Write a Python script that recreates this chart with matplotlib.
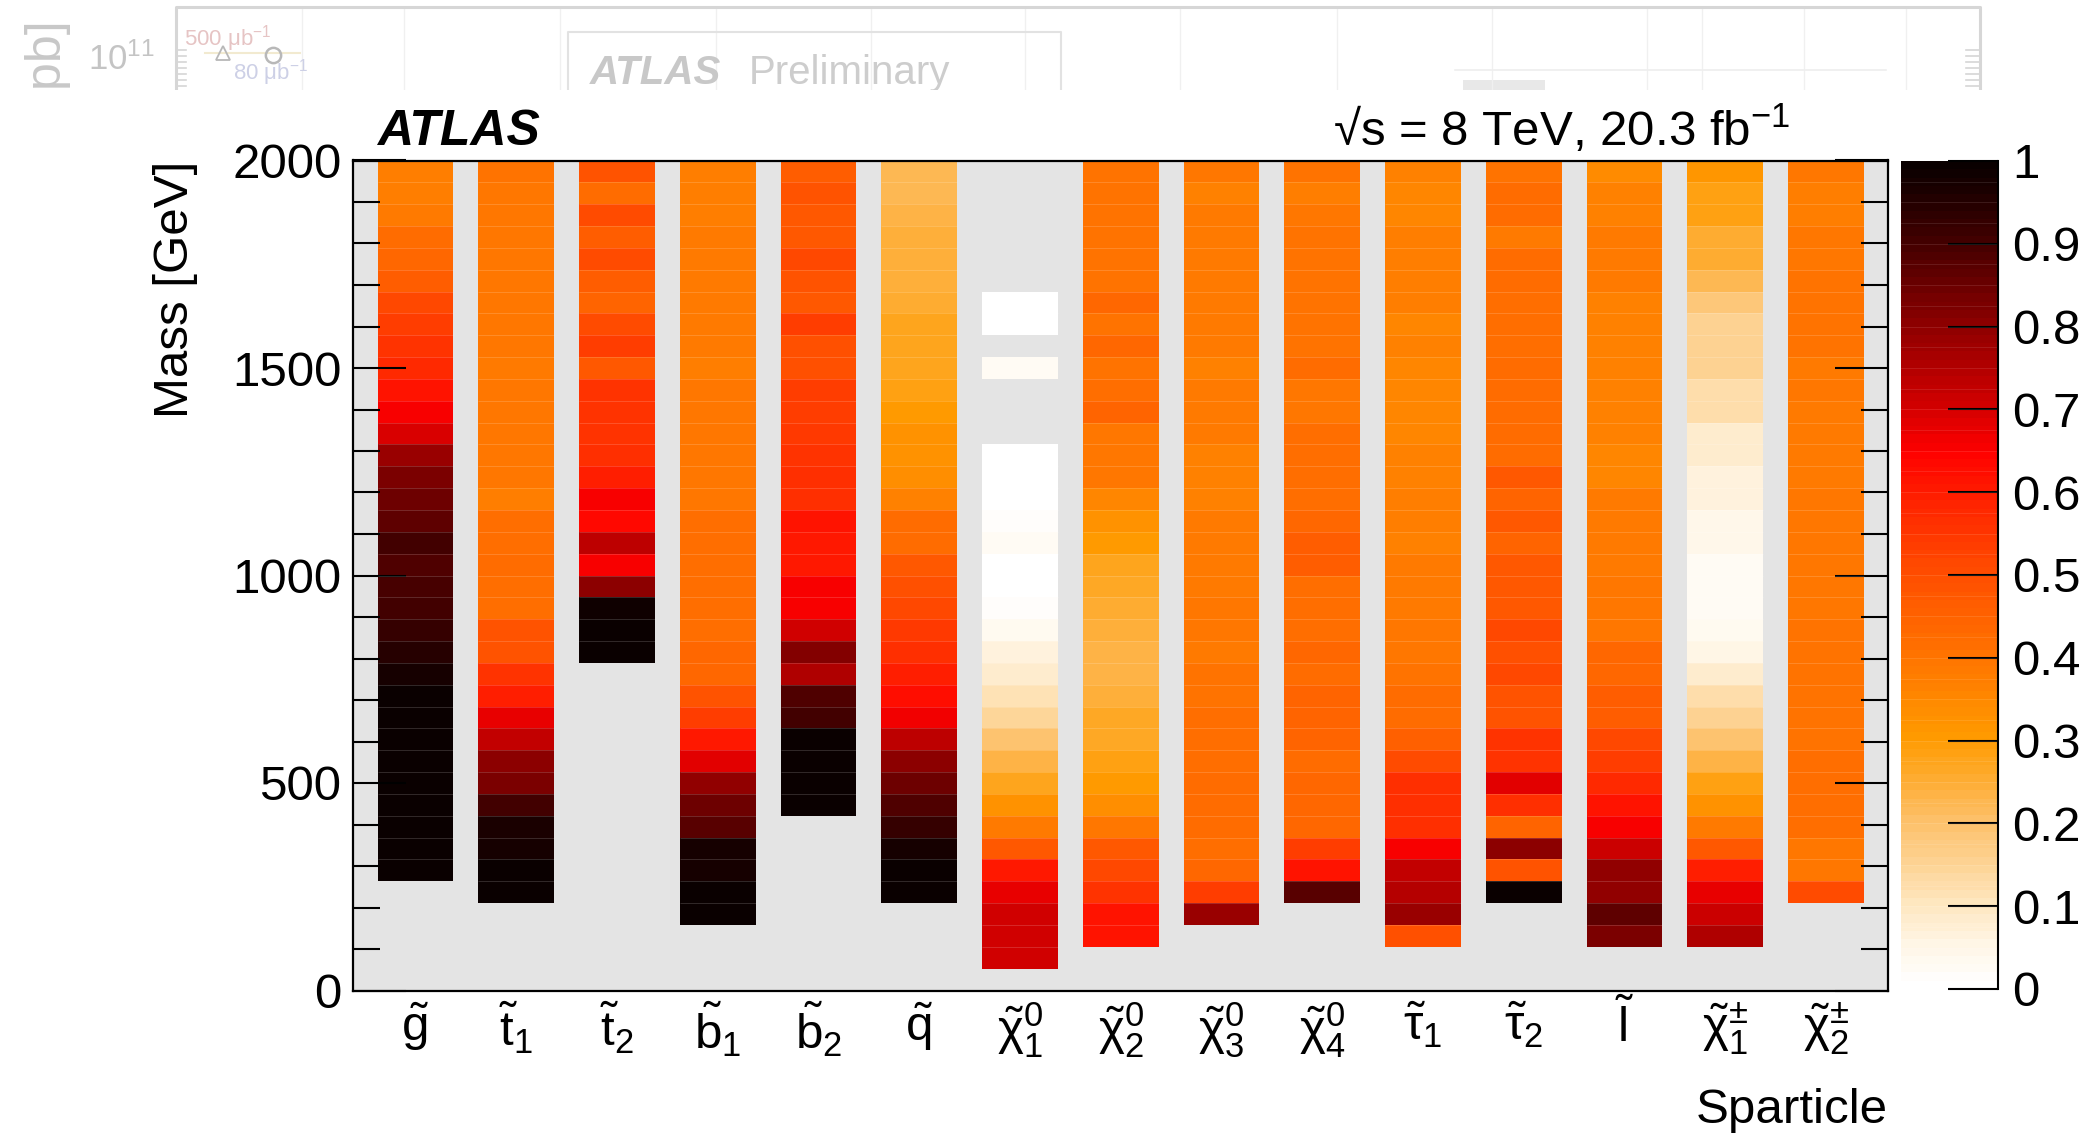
import numpy as np
import matplotlib
matplotlib.use("Agg")
import matplotlib.pyplot as plt
from matplotlib.colors import LinearSegmentedColormap, ListedColormap
from matplotlib.ticker import MultipleLocator, FuncFormatter
from matplotlib.patches import Rectangle

plt.rcParams['font.family'] = ['Liberation Sans', 'DejaVu Sans']
plt.rcParams['mathtext.fontset'] = 'custom'
plt.rcParams['mathtext.rm'] = 'Liberation Sans'
plt.rcParams['mathtext.it'] = 'Liberation Sans'
plt.rcParams['mathtext.bf'] = 'Liberation Sans:bold'
plt.rcParams['mathtext.sf'] = 'Liberation Sans'

# ---------------------------------------------------------------------------
# Fraction of models excluded, per sparticle and 2000/38 GeV mass bin.
# Each list runs from the highest mass bin (top) downward; None = no models.
# ---------------------------------------------------------------------------
n_bins = 38
mass_max = 2000.0

sparticles = [r'$\tilde{g}$', r'$\tilde{t}_{1}$', r'$\tilde{t}_{2}$',
              r'$\tilde{b}_{1}$', r'$\tilde{b}_{2}$', r'$\tilde{q}$',
              r'$\tilde{\chi}^{0}_{1}$', r'$\tilde{\chi}^{0}_{2}$',
              r'$\tilde{\chi}^{0}_{3}$', r'$\tilde{\chi}^{0}_{4}$',
              r'$\tilde{\tau}_{1}$', r'$\tilde{\tau}_{2}$', r'$\tilde{l}$',
              r'$\tilde{\chi}^{\pm}_{1}$', r'$\tilde{\chi}^{\pm}_{2}$']

gluino = [0.37, 0.37, 0.38, 0.42, 0.43, 0.46, 0.51, 0.53, 0.55, 0.58, 0.61,
          0.65, 0.69, 0.78, 0.82, 0.84, 0.86, 0.90, 0.88, 0.89, 0.90, 0.92,
          0.94, 0.97, 0.99, 1.0, 1.0, 1.0, 1.0, 1.0, 1.0, 1.0, 1.0]
stop1 = [0.40, 0.39, 0.39, 0.39, 0.39, 0.39, 0.39, 0.39, 0.39, 0.38, 0.39,
         0.39, 0.39, 0.39, 0.39, 0.37, 0.41, 0.41, 0.42, 0.41, 0.41, 0.48,
         0.48, 0.55, 0.59, 0.67, 0.72, 0.80, 0.82, 0.90, 0.96, 0.97, 1.0, 1.0]
stop2 = [0.48, 0.42, 0.50, 0.46, 0.50, 0.46, 0.44, 0.50, 0.53, 0.47, 0.55,
         0.55, 0.55, 0.56, 0.59, 0.65, 0.63, 0.73, 0.65, 0.80, 0.98, 0.99, 1.0]
sbottom1 = [0.37, 0.37, 0.37, 0.38, 0.38, 0.38, 0.38, 0.38, 0.38, 0.37, 0.39,
            0.39, 0.39, 0.39, 0.39, 0.39, 0.41, 0.41, 0.41, 0.41, 0.41, 0.41,
            0.43, 0.43, 0.48, 0.53, 0.60, 0.68, 0.79, 0.84, 0.87, 0.97, 0.97,
            1.0, 1.0]
sbottom2 = [0.46, 0.48, 0.47, 0.47, 0.51, 0.48, 0.47, 0.53, 0.49, 0.49, 0.53,
            0.53, 0.54, 0.55, 0.56, 0.57, 0.61, 0.60, 0.60, 0.65, 0.65, 0.70,
            0.81, 0.75, 0.88, 0.90, 1.0, 1.0, 1.0, 1.0]
squark = [0.22, 0.22, 0.23, 0.24, 0.24, 0.24, 0.25, 0.27, 0.27, 0.27, 0.28,
          0.30, 0.32, 0.32, 0.33, 0.36, 0.42, 0.42, 0.47, 0.49, 0.51, 0.54,
          0.56, 0.59, 0.62, 0.66, 0.73, 0.80, 0.84, 0.88, 0.92, 0.97, 1.0, 1.0]
neutralino1 = [None, None, None, None, None, None, 0.005, 0.005, None, 0.02,
               None, None, None, 0.005, 0.005, 0.005, 0.01, 0.02, 0.005,
               0.005, 0.01, 0.03, 0.06, 0.08, 0.11, 0.14, 0.19, 0.23, 0.27,
               0.32, 0.38, 0.47, 0.60, 0.67, 0.70, 0.70, 0.70]
neutralino2 = [0.40, 0.40, 0.40, 0.40, 0.40, 0.40, 0.43, 0.40, 0.43, 0.40,
               0.41, 0.44, 0.39, 0.39, 0.39, 0.35, 0.32, 0.30, 0.27, 0.26,
               0.25, 0.24, 0.23, 0.23, 0.24, 0.26, 0.26, 0.28, 0.30, 0.33,
               0.39, 0.47, 0.51, 0.55, 0.61, 0.61]
neutralino3 = [0.39, 0.36, 0.38, 0.38, 0.38, 0.38, 0.38, 0.38, 0.38, 0.36,
               0.38, 0.38, 0.38, 0.36, 0.36, 0.36, 0.38, 0.38, 0.38, 0.38,
               0.39, 0.39, 0.38, 0.40, 0.40, 0.41, 0.41, 0.41, 0.42, 0.42,
               0.42, 0.41, 0.43, 0.53, 0.78]
neutralino4 = [0.40, 0.37, 0.39, 0.40, 0.40, 0.40, 0.40, 0.40, 0.40, 0.42,
               0.39, 0.39, 0.41, 0.41, 0.41, 0.41, 0.43, 0.46, 0.46, 0.41,
               0.41, 0.41, 0.43, 0.42, 0.44, 0.44, 0.44, 0.42, 0.43, 0.43,
               0.43, 0.53, 0.61, 0.87]
stau1 = [0.36, 0.35, 0.35, 0.37, 0.37, 0.37, 0.37, 0.35, 0.36, 0.35, 0.35,
         0.35, 0.35, 0.36, 0.36, 0.37, 0.37, 0.36, 0.38, 0.38, 0.38, 0.39,
         0.39, 0.40, 0.42, 0.42, 0.45, 0.50, 0.56, 0.56, 0.57, 0.65, 0.72,
         0.74, 0.78, 0.49]
stau2 = [0.40, 0.42, 0.42, 0.38, 0.42, 0.42, 0.41, 0.41, 0.41, 0.42, 0.42,
         0.42, 0.42, 0.42, 0.47, 0.44, 0.47, 0.44, 0.47, 0.47, 0.47, 0.51,
         0.49, 0.51, 0.48, 0.48, 0.55, 0.55, 0.68, 0.56, 0.44, 0.80, 0.48, 1.0]
slepton = [0.34, 0.36, 0.36, 0.38, 0.38, 0.38, 0.36, 0.36, 0.36, 0.36, 0.36,
           0.36, 0.36, 0.35, 0.35, 0.38, 0.38, 0.38, 0.38, 0.39, 0.39, 0.39,
           0.43, 0.43, 0.46, 0.46, 0.51, 0.53, 0.58, 0.61, 0.65, 0.71, 0.79,
           0.79, 0.86, 0.82]
chargino1 = [0.31, 0.28, 0.28, 0.25, 0.25, 0.22, 0.18, 0.15, 0.15, 0.15, 0.12,
             0.12, 0.08, 0.08, 0.06, 0.06, 0.04, 0.04, 0.02, 0.02, 0.02, 0.03,
             0.05, 0.08, 0.12, 0.15, 0.19, 0.23, 0.28, 0.32, 0.38, 0.47, 0.59,
             0.67, 0.71, 0.75]
chargino2 = [0.39, 0.37, 0.37, 0.39, 0.39, 0.40, 0.40, 0.40, 0.40, 0.38, 0.39,
             0.38, 0.38, 0.38, 0.38, 0.39, 0.39, 0.39, 0.39, 0.39, 0.39, 0.40,
             0.40, 0.40, 0.40, 0.40, 0.40, 0.41, 0.41, 0.41, 0.41, 0.39, 0.39,
             0.50]

columns = [gluino, stop1, stop2, sbottom1, sbottom2, squark, neutralino1,
           neutralino2, neutralino3, neutralino4, stau1, stau2, slepton,
           chargino1, chargino2]

colorbar_ticks = [0.0, 0.1, 0.2, 0.3, 0.4, 0.5, 0.6, 0.7, 0.8, 0.9, 1.0]

# ---------------------------------------------------------------------------
# Palette: white -> orange -> red -> black
# ---------------------------------------------------------------------------
anchors = [
    (0.00, (255, 255, 255)), (0.05, (255, 245, 228)), (0.10, (254, 230, 190)),
    (0.15, (253, 210, 145)), (0.20, (253, 192, 105)), (0.25, (254, 172, 50)),
    (0.30, (255, 155, 0)), (0.35, (255, 135, 0)), (0.40, (255, 116, 0)),
    (0.45, (255, 98, 0)), (0.50, (255, 78, 0)), (0.55, (255, 55, 0)),
    (0.60, (255, 28, 0)), (0.65, (255, 0, 0)), (0.70, (215, 0, 0)),
    (0.75, (180, 0, 0)), (0.80, (145, 0, 0)), (0.85, (110, 0, 0)),
    (0.90, (72, 0, 0)), (0.95, (40, 0, 0)), (1.00, (10, 0, 0)),
]
smooth = LinearSegmentedColormap.from_list(
    'excl', [(p, tuple(c / 255 for c in rgb)) for p, rgb in anchors])
cmap = ListedColormap(smooth(np.linspace(0, 1, 100)))
cmap.set_bad((0, 0, 0, 0))

# ---------------------------------------------------------------------------
# Build the grid: each sparticle column is 0.75 wide, gaps are masked
# ---------------------------------------------------------------------------
half_w = 0.375
n_col = len(columns)
x_edges = []
for i in range(n_col):
    x_edges += [i - half_w, i + half_w]
x_edges = np.array(x_edges)
y_edges = np.linspace(0, mass_max, n_bins + 1)

grid = np.full((n_bins, 2 * n_col - 1), np.nan)
for i, col in enumerate(columns):
    vals = np.array([np.nan if v is None else v for v in col][::-1])
    grid[n_bins - len(vals):, 2 * i] = vals
grid = np.ma.masked_invalid(grid)

W, H = 2079, 1139
fig = plt.figure(figsize=(W / 100, H / 100), dpi=100)


def fx(px):
    return px / W


def fy(py):
    return 1 - py / H


ax_l, ax_r, ax_t, ax_b = 352.5, 1888.0, 160.5, 990.5
ax = fig.add_axes([fx(ax_l), fy(ax_b), fx(ax_r - ax_l), (ax_b - ax_t) / H])
ax.set_facecolor('#e4e4e4')
mesh = ax.pcolormesh(x_edges, y_edges, grid, cmap=cmap, vmin=0, vmax=1,
                     shading='flat', linewidth=0, antialiased=False)

# faint seams between filled cells
seam = (1, 1, 1, 0.16)
for i in range(n_col):
    filled = ~np.ma.getmaskarray(grid[:, 2 * i])
    for b in range(1, n_bins):
        if filled[b] and filled[b - 1]:
            ax.plot([i - half_w, i + half_w], [y_edges[b]] * 2, color=seam,
                    lw=0.7, solid_capstyle='butt')

ax.set_xlim(-0.625, 14.615)
ax.set_ylim(0, mass_max)
ax.set_xticks(range(n_col))
ax.set_xticklabels(sparticles)
ax.yaxis.set_major_locator(MultipleLocator(500))
ax.yaxis.set_minor_locator(MultipleLocator(100))
ax.tick_params(axis='x', length=0, labelsize=35.5, pad=7)
ax.tick_params(axis='y', which='major', direction='in', left=True, right=True,
               length=38, width=1.5, labelsize=35.5, pad=8)
ax.tick_params(axis='y', which='minor', direction='in', left=True, right=True,
               length=19.5, width=1.5)
for s in ax.spines.values():
    s.set_linewidth(1.6)

fig.text(fx(175), fy(ax_t), 'Mass [GeV]', rotation=90, ha='center', va='top',
         fontsize=35.5)
fig.text(fx(ax_r), fy(1123), 'Sparticle', ha='right', va='baseline',
         fontsize=35.5)
fig.text(fx(377), fy(145), 'ATLAS', ha='left', va='baseline', fontsize=36,
         fontweight='bold', fontstyle='italic')
fig.text(fx(1333), fy(146), '\u221As = 8 TeV, 20.3 fb$^{-1}$', ha='left',
         va='baseline', fontsize=35.5)

# ---------------------------------------------------------------------------
# Colour scale
# ---------------------------------------------------------------------------
cax = fig.add_axes([fx(1900.5), fy(989), fx(97.5), (989 - 161) / H])
cb = fig.colorbar(mesh, cax=cax)
cb.outline.set_visible(False)
cb.set_ticks(colorbar_ticks)
cb.ax.yaxis.set_major_formatter(FuncFormatter(lambda v, p: f'{v:g}'))
cax.tick_params(direction='in', length=36, width=1.5, labelsize=35.5, pad=10)
cax.minorticks_off()
for lev in np.arange(0.025, 1.0, 0.025):
    cax.plot([0, 1], [lev, lev], color=(1, 1, 1, 0.12), lw=0.6)
cax.plot([1, 1], [0, 1], transform=cax.transAxes, color='k', lw=1.5,
         clip_on=False)

# ---------------------------------------------------------------------------
# Faded header band from the neighbouring figure
# ---------------------------------------------------------------------------
band = fig.add_axes([0, fy(90), 1, 90 / H], zorder=-1)
band.set_xlim(0, W)
band.set_ylim(90, 0)
band.axis('off')
faint = '#d6d6d6'
for gx in [302, 404, 560, 716, 871, 1025, 1180, 1337, 1492, 1647, 1702, 1804,
           1906]:
    band.plot([gx, gx], [8, 95], color='#f0f0f0', lw=1)
band.plot([176, 176, 1980, 1980], [95, 7, 7, 95], color=faint, lw=2.2)
for ty in range(50, 92, 6):
    band.plot([176, 186], [ty, ty], color=faint, lw=1.2)
    band.plot([1966, 1980], [ty, ty], color=faint, lw=1.2)
band.plot([568, 568, 1061, 1061], [95, 32, 32, 95], color='#e2e2e2', lw=1.5)
band.plot([1455, 1886], [70, 70], color='#eeeeee', lw=1.2)
band.add_patch(Rectangle((1463, 80), 82, 15, color='#e8e8e8', lw=0))
band.text(590, 84, 'ATLAS', fontsize=29, fontweight='bold', fontstyle='italic',
          color='#c8c8c8', va='baseline', clip_on=True)
band.text(749, 84, 'Preliminary', fontsize=29, color='#cdcdcd',
          va='baseline', clip_on=True)
band.text(88, 70, '10$^{11}$', fontsize=25, color='#c4c4c4', va='baseline',
          clip_on=True)
band.text(44, 16, '[pb]', rotation=90, ha='center', va='top', fontsize=36,
          color='#c8c8c8', clip_on=True)
band.plot([205, 300], [53, 53], color='#f2ead0', lw=1.5)
band.plot([223], [53], marker='^', ms=10, mfc='none', mec='#b8b8b8', mew=1.3)
band.plot([273], [55], marker='o', ms=11, mfc='none', mec='#b8b8b8', mew=1.8)
band.text(184, 45, '500 \u03bcb$^{-1}$', fontsize=16, color='#e6c4c4',
          va='baseline', clip_on=True)
band.text(233, 80, '80 \u03bcb$^{-1}$', fontsize=16, color='#cdd0e6',
          va='baseline', clip_on=True)

fig.savefig('out.png', dpi=100)
